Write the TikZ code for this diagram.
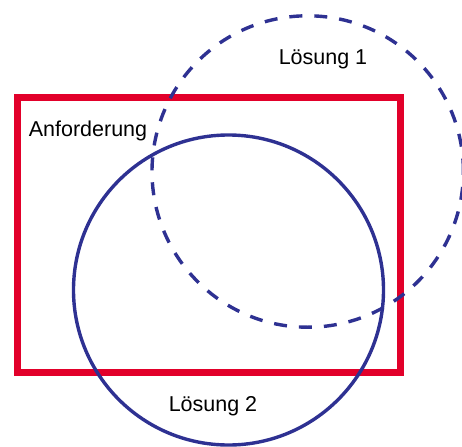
\documentclass[tikz,border=0pt]{standalone}
\usepackage{fontspec}
\setmainfont{Liberation Sans}
\definecolor{loesblue}{RGB}{46,49,146}
\definecolor{anfred}{RGB}{226,0,42}
\tikzset{
    lab/.style={
        font=\fontsize{21.5}{26}\selectfont, inner sep=0pt
    },
    reqbox/.style={draw=anfred, line width=7pt},
    sol/.style={draw=loesblue, line width=3.4pt}
}

\begin{document}
\begin{tikzpicture}[x=1pt,y=-1pt,line join=miter]

% --- geometry ---
    \def\Ra{155.7pt}                  % radius Loesung 1
    \def\Rb{155pt}                    % radius Loesung 2
    \coordinate (S1) at (307.7,171.5); % center Loesung 1
    \coordinate (S2) at (228.5,290);   % center Loesung 2

% frame
    \useasboundingbox (0,0) rectangle (462,446);

% requirement rectangle
    \draw[reqbox] (17.5,98) rectangle (400.5,372.5);

% solutions
    \draw[sol, dash pattern=on 13pt off 12pt] (S1) circle (\Ra);
    \draw[sol] (S2) circle (\Rb);

% labels
    \node[lab] (anf) at (88,130.5) {Anforderung};
    \node[lab] (l1)  at (323,59)   {Lösung 1};
    \node[lab] (l2)  at (213,406)  {Lösung 2};

\end{tikzpicture}
\end{document}
